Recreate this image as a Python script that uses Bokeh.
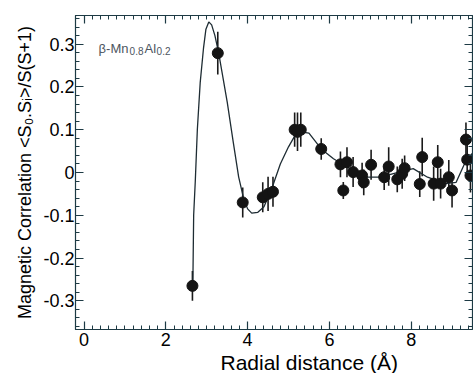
from bokeh.plotting import figure
from bokeh.models import Range1d, LinearAxis, FixedTicker, Label, Title, CustomJSTickFormatter
from bokeh.embed import file_html
from bokeh.resources import INLINE

# measured points (radial distance, correlation, error)
r_pts = [2.65, 3.27, 3.88, 4.37, 4.50, 4.62, 5.15, 5.22, 5.30, 5.80, 6.27, 6.34, 6.43,
         6.58, 6.80, 6.84, 7.02, 7.34, 7.45, 7.66, 7.78, 7.84, 8.21, 8.27, 8.55, 8.65,
         8.72, 8.92, 9.00, 9.34, 9.37, 9.45]
c_pts = [-0.265, 0.279, -0.070, -0.058, -0.050, -0.045, 0.100, 0.095, 0.100, 0.055, 0.019,
         -0.042, 0.024, 0.001, -0.007, -0.023, 0.018, -0.011, 0.014, -0.016, -0.003, 0.010,
         -0.027, 0.036, -0.026, 0.024, -0.026, -0.011, -0.042, 0.077, 0.030, -0.007]
c_err = [0.035, 0.050, 0.035, 0.035, 0.040, 0.035, 0.040, 0.045, 0.040, 0.025, 0.030,
         0.020, 0.035, 0.035, 0.030, 0.030, 0.035, 0.030, 0.045, 0.030, 0.035, 0.030,
         0.030, 0.045, 0.040, 0.040, 0.035, 0.040, 0.040, 0.040, 0.040, 0.040]

# fitted curve
r_fit = [2.66, 2.68, 2.72, 2.77, 2.84, 2.92, 2.98, 3.05, 3.12, 3.20, 3.29, 3.40, 3.50,
         3.65, 3.78, 3.90, 4.00, 4.10, 4.25, 4.40, 4.60, 4.80, 5.00, 5.15, 5.30, 5.50,
         5.80, 6.10, 6.50, 6.90, 7.25, 7.70, 8.05, 8.40, 8.85, 9.10, 9.35, 9.55]
c_fit = [-0.265, -0.100, -0.020, 0.100, 0.210, 0.290, 0.335, 0.352, 0.345, 0.320, 0.280,
         0.220, 0.165, 0.070, -0.010, -0.060, -0.085, -0.095, -0.093, -0.080, -0.035,
         0.020, 0.060, 0.085, 0.095, 0.092, 0.055, 0.032, 0.009, -0.011, -0.011, 0.001,
         0.009, -0.011, -0.026, -0.023, 0.030, 0.050]

x_ticks = [0, 2, 4, 6, 8]
y_ticks = [-0.3, -0.2, -0.1, 0.0, 0.1, 0.2, 0.3]
y_tick_labels = {-0.3: "-0.3", -0.2: "-0.2", -0.1: "-0.1", 0.0: "0", 0.1: "0.1", 0.2: "0.2", 0.3: "0.3"}
x_minor = [round(-0.2 + 0.2 * i, 2) for i in range(50)]
y_minor = [round(-0.36 + 0.02 * i, 2) for i in range(37)]

FONT = "Liberation Sans"
AX = "#1d3a44"

p = figure(width=473, height=373, output_backend="svg", toolbar_location=None,
           x_range=Range1d(-0.21, 9.50), y_range=Range1d(-0.367, 0.367),
           min_border_left=75, min_border_right=1, min_border_top=15, min_border_bottom=0)
p.background_fill_color = "white"
p.border_fill_color = "white"
p.outline_line_color = AX
p.xgrid.visible = False
p.ygrid.visible = False

xt = FixedTicker(ticks=x_ticks, minor_ticks=x_minor)
yt = FixedTicker(ticks=y_ticks, minor_ticks=y_minor)

for ax in p.xaxis:
    ax.ticker = xt
for ax in p.yaxis:
    ax.ticker = yt
    ax.major_label_overrides = y_tick_labels

def style(ax, labels=True):
    ax.axis_line_color = AX
    ax.major_tick_line_color = AX
    ax.minor_tick_line_color = AX
    ax.major_tick_in = 8
    ax.major_tick_out = 0
    ax.minor_tick_in = 4
    ax.minor_tick_out = 0
    ax.axis_line_width = 1.2
    ax.major_tick_line_width = 1.2
    ax.minor_tick_line_width = 1
    if labels:
        ax.major_label_text_font = FONT
        ax.major_label_text_font_size = "18px"
        ax.major_label_text_color = "black"
    else:
        ax.formatter = CustomJSTickFormatter(code="return ''")
        ax.major_label_standoff = 0

xa = p.xaxis[0]
style(xa)
xa.major_label_standoff = 3
ya = p.yaxis[0]
style(ya)
ya.major_label_standoff = 1
ya.axis_label = "Magnetic Correlation <S\u2080.S\u1d62>/S(S+1)"
ya.axis_label_text_font = FONT
ya.axis_label_text_font_size = "18px"
ya.axis_label_text_font_style = "normal"
ya.axis_label_text_color = "black"
ya.axis_label_standoff = 5

top = LinearAxis(ticker=xt)
style(top, labels=False)
p.add_layout(top, "above")
right = LinearAxis(ticker=yt)
style(right, labels=False)
p.add_layout(right, "right")

# x axis title (original figure is cropped on the right, so it sits right of centre)
xtitle = Title(text="Radial distance (\u00c5)", text_font=FONT, text_font_size="21px",
               text_font_style="normal", text_color="black", align="left", offset=145,
               standoff=0)
p.add_layout(xtitle, "below")

# error bars
p.segment(x0=r_pts, y0=[c - e for c, e in zip(c_pts, c_err)],
          x1=r_pts, y1=[c + e for c, e in zip(c_pts, c_err)],
          line_color="#1a1a1a", line_width=1.6)
# fit line
p.line(r_fit, c_fit, line_color="#1e2c33", line_width=1.3)
# points
p.scatter(r_pts, c_pts, size=11, marker="circle", fill_color="#141414", line_color="#141414")

# sample label
ins_col = "#4d5560"
p.add_layout(Label(x=0.355, y=0.29, text="\u03b2-Mn", text_font=FONT, text_font_size="13px",
                   text_color=ins_col, text_baseline="alphabetic"))
p.add_layout(Label(x=0.355, y=0.29, x_offset=31, y_offset=-3, text="0.8", text_font=FONT,
                   text_font_size="10px", text_color=ins_col, text_baseline="alphabetic"))
p.add_layout(Label(x=0.355, y=0.29, x_offset=46, text="Al", text_font=FONT, text_font_size="13px",
                   text_color=ins_col, text_baseline="alphabetic"))
p.add_layout(Label(x=0.355, y=0.29, x_offset=58, y_offset=-3, text="0.2", text_font=FONT,
                   text_font_size="10px", text_color=ins_col, text_baseline="alphabetic"))

open("out.html", "w").write(file_html(p, INLINE))
